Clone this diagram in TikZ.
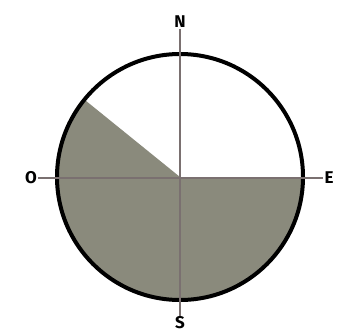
\documentclass[tikz,border=0pt]{standalone}
\usepackage{fontspec}
\setmainfont{Fira Sans}
\begin{document}
\begin{tikzpicture}[x=1pt, y=-1pt,
    dir/.style={font=\fontsize{17}{20}\selectfont\bfseries, inner sep=1pt},
    axis/.style={draw=axisgray, line width=1.8pt},
    rim/.style={draw=black, line width=4pt},
    part/.style={fill=sectorgray}]
    \definecolor{axisgray}{HTML}{7A7070}
    \definecolor{sectorgray}{HTML}{8A8A7C}
    \useasboundingbox (0,0) rectangle (350,332);
    \coordinate (c) at (180,177);
    \node [dir] (north) at (180,22) {N};
    \node [dir] (south) at (180,323) {S};
    \node [dir] (west) at (31,178) {O};
    \node [dir] (east) at (329,178) {E};

    % shaded part
    \fill [part] (c) -- ++(0:123) arc [start angle=0, end angle=219, radius=123] -- cycle;
    \draw [rim] (c) circle [radius=123];

    \draw [axis] (north) -- (south);
    \draw [axis] (west) -- (east);
\end{tikzpicture}
\end{document}
